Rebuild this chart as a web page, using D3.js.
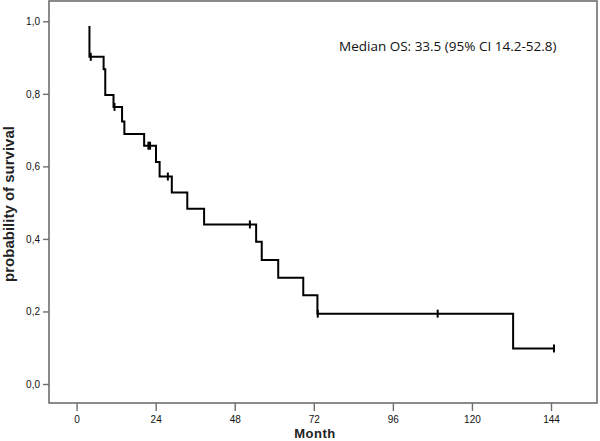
<!DOCTYPE html>
<html>
<head>
<meta charset="utf-8">
<script src="https://cdn.jsdelivr.net/npm/d3@7"></script>
<style>
  body { margin: 0; background: #fff; }
  svg { display: block; }
</style>
</head>
<body>
<svg width="600" height="441"></svg>
<script>
let width = 600, height = 441;
let svg = d3.select("svg");

// Kaplan-Meier steps (month, survival)
var startTime = 3.9, startSurv = 0.987;
var eventTimes = [3.9, 8.2, 8.7, 11.2, 13.8, 14.5, 20.5, 24.1, 25.2, 28.9, 33.6, 38.7, 54.5, 56.2, 61.2, 68.8, 73.1, 132.5];
var survival   = [0.902, 0.868, 0.797, 0.764, 0.724, 0.689, 0.657, 0.612, 0.572, 0.528, 0.483, 0.440, 0.392, 0.342, 0.293, 0.245, 0.194, 0.098];
var endTime = 144.9;
var censorTimes = [4.3, 11.5, 21.8, 22.3, 27.7, 52.6, 73.2, 109.6, 144.9];

var xTicks = [0, 24, 48, 72, 96, 120, 144];
var yTicks = [0, 0.2, 0.4, 0.6, 0.8, 1.0];
var note = "Median OS: 33.5 (95% CI 14.2-52.8)";

// frame and scales
var frame = {left: 49, top: 1, right: 597, bottom: 403};
var x = d3.scaleLinear().domain([0, 144]).range([76.6, 551]);
var y = d3.scaleLinear().domain([0, 1]).range([384, 21.3]);

var grey = "#6e6e6e";

svg.append("rect")
    .attr("x", frame.left).attr("y", frame.top)
    .attr("width", frame.right - frame.left)
    .attr("height", frame.bottom - frame.top)
    .attr("fill", "none")
    .attr("stroke", grey)
    .attr("stroke-width", 1.6);

// y axis
let yAxis = svg.append("g")
    .attr("transform", "translate(" + frame.left + ",0)")
    .call(d3.axisLeft(y).tickValues(yTicks).tickSize(6).tickPadding(3)
        .tickFormat(d => d3.format(".1f")(d).replace(".", ",")));
yAxis.select(".domain").remove();
yAxis.selectAll("line").attr("stroke", grey).attr("stroke-width", 1.4);
yAxis.selectAll("text")
    .style("font-family", "Liberation Sans, Arial, sans-serif")
    .style("font-size", "10px")
    .attr("fill", "#111");

// x axis
let xAxis = svg.append("g")
    .attr("transform", "translate(0," + frame.bottom + ")")
    .call(d3.axisBottom(x).tickValues(xTicks).tickSize(8).tickPadding(5));
xAxis.select(".domain").remove();
xAxis.selectAll("line").attr("stroke", grey).attr("stroke-width", 1.4);
xAxis.selectAll("text")
    .style("font-family", "Liberation Sans, Arial, sans-serif")
    .style("font-size", "10px")
    .attr("fill", "#111");

// axis titles
svg.append("text")
    .attr("x", 315).attr("y", 438)
    .attr("text-anchor", "middle")
    .style("font-family", "Liberation Sans, Arial, sans-serif")
    .style("font-weight", "bold")
    .style("font-size", "13px")
    .style("letter-spacing", "0.5px")
    .attr("fill", "#222")
    .text("Month");

svg.append("text")
    .attr("transform", "translate(14,204) rotate(-90)")
    .attr("text-anchor", "middle")
    .style("font-family", "Liberation Sans, Arial, sans-serif")
    .style("font-weight", "bold")
    .style("font-size", "15px")
    .attr("fill", "#222")
    .text("probability of survival");

// step curve
var pts = [[startTime, startSurv]];
eventTimes.forEach((t, i) => pts.push([t, survival[i]]));
pts.push([endTime, survival[survival.length - 1]]);

var line = d3.line()
    .x(d => x(d[0]))
    .y(d => y(d[1]))
    .curve(d3.curveStepAfter);

svg.append("path")
    .datum(pts)
    .attr("d", line)
    .attr("fill", "none")
    .attr("stroke", "#000")
    .attr("stroke-width", 2);

// survival value at a given time
function survAt(t) {
    var s = startSurv;
    for (var i = 0; i < eventTimes.length; i++) {
        if (eventTimes[i] <= t) s = survival[i];
    }
    return s;
}

svg.append("g")
    .selectAll("line")
    .data(censorTimes)
    .enter()
    .append("line")
      .attr("x1", d => x(d)).attr("x2", d => x(d))
      .attr("y1", d => y(survAt(d)) - 4)
      .attr("y2", d => y(survAt(d)) + 4)
      .attr("stroke", "#000")
      .attr("stroke-width", 2);

// median note
svg.append("text")
    .attr("x", 339).attr("y", 51)
    .style("font-family", "Open Sans, Noto Sans, sans-serif")
    .style("font-size", "13.5px")
    .attr("fill", "#111")
    .text(note);
</script>
</body>
</html>
